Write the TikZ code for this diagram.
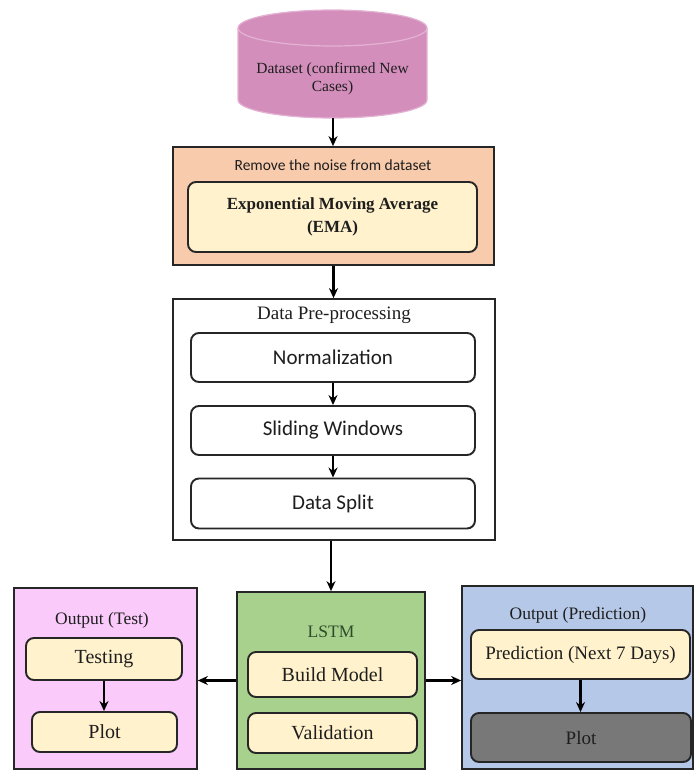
\documentclass[tikz,border=0pt]{standalone}
\usepackage{fontspec}
\setmainfont{Liberation Serif}
\newfontfamily\calfont{Carlito}
\usetikzlibrary{arrows.meta}
\definecolor{cylpink}{RGB}{212,142,188}
\definecolor{cylline}{RGB}{228,178,210}
\definecolor{peach}{RGB}{248,203,173}
\definecolor{cream}{RGB}{255,242,204}
\definecolor{testpink}{RGB}{250,202,250}
\definecolor{lstmgreen}{RGB}{169,209,142}
\definecolor{predblue}{RGB}{182,200,231}
\definecolor{plotgray}{RGB}{120,120,120}
\definecolor{txt}{RGB}{30,30,30}
\definecolor{lstmtxt}{RGB}{45,75,40}
\tikzset{
  outerbox/.style={draw=black!85, line width=1.7pt, inner sep=0pt},
  innerbox/.style={draw=black!85, line width=1.9pt, rounded corners=8pt, inner sep=0pt, text=txt, align=center},
  titletext/.style={inner sep=0pt, text=txt, align=center},
  arr/.style={line width=2.6pt, draw=black, -{Stealth[length=10pt,width=9pt]}},
}
\begin{document}
\begin{tikzpicture}[x=1pt,y=-1pt]
\useasboundingbox (0,0) rectangle (694,771);
% dataset cylinder
\fill[cylpink] (238,28) -- (238,100) arc[start angle=180,end angle=360,x radius=94.5pt,y radius=18pt] -- (427,28) arc[start angle=0,end angle=180,x radius=94.5pt,y radius=18pt] -- cycle;
\draw[cylline, line width=1.2pt] (332.5,28) ellipse[x radius=94.5pt, y radius=18pt];
\draw[cylline, line width=1.2pt] (238,28) -- (238,100) arc[start angle=180,end angle=360,x radius=94.5pt,y radius=18pt] -- (427,28);
\node[titletext, font=\fontsize{15.5}{18}\selectfont] (ds) at (332.5,79) {Dataset (confirmed New\\Cases)};
\coordinate (dsb) at (333,118);
% EMA
\node[outerbox, fill=peach, minimum width=321pt, minimum height=118pt] (ema) at (333.5,206) {};
\node[titletext, font=\calfont\fontsize{15.5}{18}\selectfont] (ematitle) at (333,165) {Remove the noise from dataset};
\node[innerbox, fill=cream, minimum width=289pt, minimum height=70pt, font=\bfseries\fontsize{17}{23}\selectfont] (emain) at (332.5,217) {Exponential Moving Average\\(EMA)};
% Data pre-processing
\node[outerbox, fill=white, minimum width=322pt, minimum height=241pt] (dp) at (334,419.5) {};
\node[titletext, font=\fontsize{19}{22}\selectfont] (dptitle) at (334,315) {Data Pre-processing};
\node[innerbox, fill=white, minimum width=284pt, minimum height=49pt, font=\calfont\fontsize{21}{24}\selectfont] (norm) at (333,357.5) {Normalization};
\node[innerbox, fill=white, minimum width=284pt, minimum height=49pt, font=\calfont\fontsize{21}{24}\selectfont] (slide) at (333,430.5) {Sliding Windows};
\node[innerbox, fill=white, minimum width=284pt, minimum height=50pt, font=\calfont\fontsize{21}{24}\selectfont] (split) at (333,503.5) {Data Split};
% LSTM
\node[outerbox, fill=lstmgreen, minimum width=188pt, minimum height=177pt] (lstm) at (331,680.5) {};
\node[titletext, text=lstmtxt, font=\fontsize{17.5}{20}\selectfont] (lstmtitle) at (331,632) {LSTM};
\node[innerbox, fill=cream, minimum width=169pt, minimum height=45pt, font=\fontsize{20}{23}\selectfont] (build) at (332.5,674.5) {Build Model};
\node[innerbox, fill=cream, minimum width=169pt, minimum height=40pt, font=\fontsize{20}{23}\selectfont] (valid) at (332.5,733) {Validation};
% Output test
\node[outerbox, fill=testpink, minimum width=183pt, minimum height=181pt] (test) at (105.5,678.5) {};
\node[titletext, font=\fontsize{17.5}{20}\selectfont] (testtitle) at (102,620) {Output (Test)};
\node[innerbox, fill=cream, minimum width=156pt, minimum height=42pt, font=\fontsize{20}{23}\selectfont] (testing) at (104,659) {Testing};
\node[innerbox, fill=cream, minimum width=145pt, minimum height=40pt, font=\fontsize{20}{23}\selectfont] (tplot) at (104.5,732) {Plot};
% Output prediction
\node[outerbox, fill=predblue, minimum width=231pt, minimum height=183pt] (pred) at (577.5,677.5) {};
\node[titletext, font=\fontsize{17.5}{20}\selectfont] (predtitle) at (578,615) {Output (Prediction)};
\node[innerbox, fill=cream, minimum width=219pt, minimum height=49pt, font=\fontsize{19}{23}\selectfont] (predin) at (580.5,654.5) {Prediction (Next 7 Days)};
\node[innerbox, fill=plotgray, minimum width=220pt, minimum height=49pt, font=\fontsize{19}{23}\selectfont] (pplot) at (581,737.5) {Plot};
% arrows
\draw[arr] (dsb) -- (dsb |- ema.north);
\draw[arr] (ema.south) -- (ema.south |- dp.north);
\draw[arr] (norm.south) -- (norm.south |- slide.north);
\draw[arr] (slide.south) -- (slide.south |- split.north);
\draw[arr] (dp.south -| lstm.north) -- (lstm.north);
\draw[arr] (lstm.west) -- (lstm.west -| test.east);
\draw[arr] (lstm.east) -- (lstm.east -| pred.west);
\draw[arr] (testing.south) -- (testing.south |- tplot.north);
\draw[arr] (predin.south) -- (predin.south |- pplot.north);
\end{tikzpicture}
\end{document}
